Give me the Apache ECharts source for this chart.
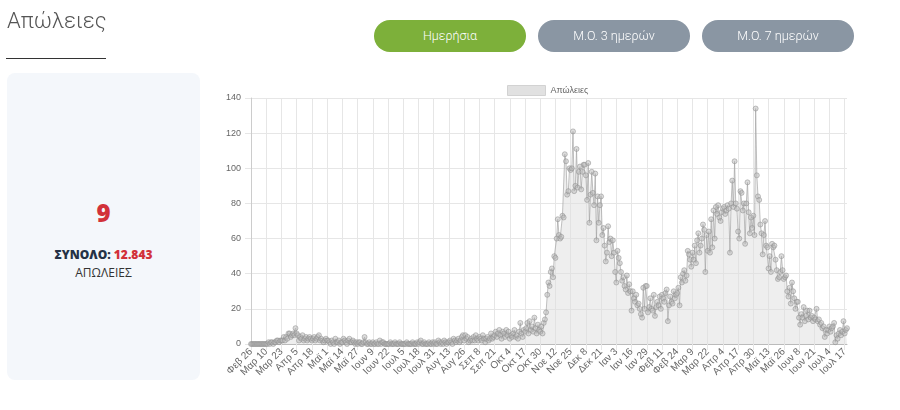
<!DOCTYPE html>
<html>
<head>
<meta charset="utf-8">
<script src="https://cdn.jsdelivr.net/npm/echarts@6/dist/echarts.min.js"></script>
<style>
  body { margin: 0; background: #fff; }
  #page { position: relative; width: 900px; height: 410px; overflow: hidden; font-family: Roboto, 'Liberation Sans', sans-serif; }
  #chart { position: absolute; left: 0; top: 0; width: 900px; height: 410px; }
  .title { position: absolute; left: 7px; top: 8px; font-size: 22px; font-weight: 300; color: #555; }
  .rule { position: absolute; left: 6px; top: 58px; width: 100px; height: 1px; background: #333; }
  .panel { position: absolute; left: 7px; top: 73px; width: 193px; height: 307px; background: #f4f7fb; border-radius: 8px; }
  .big { position: absolute; left: 7px; width: 193px; top: 196px; text-align: center; font-family: 'Open Sans', sans-serif; font-weight: 800; font-size: 24px; color: #d2313a; }
  .total { position: absolute; left: 7px; width: 193px; top: 246px; text-align: center; font-family: 'Open Sans', sans-serif; font-weight: 800; font-size: 12px; color: #253246; }
  .total span { color: #d2313a; }
  .sub { position: absolute; left: 7px; width: 193px; top: 264px; text-align: center; font-family: 'Open Sans', sans-serif; font-size: 12px; color: #333; }
  .btn { position: absolute; top: 20px; height: 32px; width: 152px; border-radius: 16px; color: #fff; text-align: center; line-height: 32px; font-size: 12.5px; font-weight: 300; background: #8a96a3; }
  .btn.on { background: #7db03a; }
</style>
</head>
<body>
<div id="page">
  <div id="chart"></div>
  <div class="title">Απώλειες</div>
  <div class="rule"></div>
  <div class="panel"></div>
  <div class="big">9</div>
  <div class="total">ΣΥΝΟΛΟ: <span>12.843</span></div>
  <div class="sub">ΑΠΩΛΕΙΕΣ</div>
  <div class="btn on" style="left:374px">Ημερήσια</div>
  <div class="btn" style="left:538px">Μ.Ο. 3 ημερών</div>
  <div class="btn" style="left:702px">Μ.Ο. 7 ημερών</div>
</div>
<script>
// daily deaths, one value per day from 26 Feb 2020
const deaths = [
  0, 0, 0, 0, 0, 0, 0, 0, 0, 0, 0, 0, 0,
  0, 0, 1, 0, 1, 1, 0, 1, 1, 2, 2, 1, 2,
  2, 2, 4, 2, 4, 3, 6, 6, 4, 5, 6, 5, 9,
  6, 5, 2, 4, 3, 5, 2, 3, 4, 2, 3, 4, 3,
  2, 3, 4, 2, 3, 4, 5, 2, 3, 2, 1, 2, 3,
  2, 2, 1, 0, 2, 1, 0, 3, 1, 1, 2, 0, 1,
  1, 3, 2, 1, 0, 2, 3, 1, 1, 2, 1, 0, 1,
  0, 1, 1, 0, 0, 1, 4, 1, 0, 0, 1, 0, 0,
  1, 0, 0, 1, 0, 0, 2, 0, 1, 1, 0, 0, 0,
  0, 0, 1, 0, 0, 0, 1, 0, 0, 0, 1, 0, 0,
  0, 0, 0, 1, 0, 0, 0, 0, 1, 0, 0, 0, 1,
  0, 1, 2, 0, 0, 1, 0, 0, 0, 1, 0, 0, 1,
  0, 1, 0, 0, 2, 1, 0, 1, 0, 2, 1, 0, 1,
  1, 2, 1, 0, 3, 2, 1, 2, 3, 1, 2, 4, 5,
  2, 5, 3, 4, 1, 2, 3, 2, 4, 2, 5, 3, 2,
  4, 3, 2, 5, 3, 1, 3, 4, 2, 3, 6, 3, 4,
  5, 7, 4, 6, 8, 5, 3, 7, 6, 4, 8, 5, 7,
  3, 5, 4, 6, 8, 4, 5, 3, 7, 12, 6, 4, 8,
  7, 9, 12, 6, 13, 8, 10, 7, 15, 9, 6, 11, 8,
  7, 10, 6, 12, 14, 18, 28, 35, 33, 41, 43, 38, 50,
  49, 60, 71, 62, 60, 61, 73, 72, 108, 104, 85, 87, 100,
  99, 100, 121, 87, 90, 111, 89, 98, 101, 88, 98, 102, 102,
  96, 82, 103, 69, 85, 98, 86, 79, 97, 59, 84, 69, 79,
  84, 62, 66, 56, 47, 52, 67, 58, 60, 50, 59, 52, 41,
  35, 53, 49, 46, 41, 36, 38, 33, 31, 39, 29, 34, 30,
  19, 30, 26, 24, 28, 22, 23, 20, 17, 15, 32, 20, 33,
  33, 18, 21, 26, 20, 19, 28, 16, 21, 24, 22, 27, 20,
  28, 26, 24, 29, 31, 13, 22, 27, 24, 23, 30, 26, 28,
  29, 32, 22, 38, 35, 40, 42, 36, 39, 53, 51, 48, 44,
  52, 48, 56, 46, 59, 63, 52, 56, 60, 68, 65, 41, 62,
  53, 64, 52, 71, 55, 76, 60, 78, 74, 79, 72, 70, 75,
  77, 78, 74, 76, 79, 77, 52, 80, 93, 78, 104, 80, 77,
  64, 60, 87, 86, 76, 80, 57, 80, 92, 75, 63, 72, 66,
  73, 62, 134, 96, 84, 82, 68, 63, 51, 62, 70, 56, 55,
  43, 50, 41, 57, 55, 56, 48, 42, 37, 38, 41, 50, 42,
  37, 38, 39, 30, 27, 32, 23, 35, 30, 26, 20, 24, 24,
  15, 11, 17, 15, 21, 13, 16, 19, 14, 19, 15, 16, 13,
  15, 14, 20, 13, 14, 11, 12, 9, 10, 4, 8, 6, 8,
  10, 7, 9, 10, 12, 1, 5, 3, 6, 8, 5, 7, 13,
  6, 8, 9
]

const monthNames = ['Ιαν', 'Φεβ', 'Μαρ', 'Απρ', 'Μαϊ', 'Ιουν', 'Ιουλ', 'Αυγ', 'Σεπ', 'Οκτ', 'Νοε', 'Δεκ']
const startDay = Date.UTC(2020, 1, 26)

const days = deaths.map((v, i) => {
  const d = new Date(startDay + i * 86400000)
  return `${monthNames[d.getUTCMonth()]} ${d.getUTCDate()}`
})

const chart = echarts.init(document.getElementById('chart'))

const gridColor = '#e6e6e6'
const labelColor = '#666'

chart.setOption({
  animation: false,
  textStyle: {fontFamily: 'Liberation Sans, Arial, sans-serif'},
  legend: {
    left: 502,
    top: 80,
    itemWidth: 38,
    itemHeight: 10,
    itemGap: 6,
    icon: 'rect',
    itemStyle: {color: 'rgba(222,222,222,0.9)', borderColor: '#d2d2d2', borderWidth: 1},
    textStyle: {fontSize: 9, color: labelColor},
    data: ['Απώλειες']
  },
  grid: {left: 251, right: 53, top: 98, bottom: 66},
  xAxis: {
    type: 'category',
    boundaryGap: false,
    data: days,
    axisLine: {lineStyle: {color: '#bbb'}},
    axisTick: {show: true, interval: 12, length: 6, lineStyle: {color: gridColor}},
    axisLabel: {interval: 12, rotate: 45, fontSize: 10, color: labelColor, margin: 6},
    splitLine: {show: true, interval: 12, lineStyle: {color: gridColor}}
  },
  yAxis: {
    type: 'value',
    min: 0,
    max: 140,
    interval: 20,
    axisLine: {show: true, lineStyle: {color: '#ccc'}},
    axisTick: {show: true, length: 6, lineStyle: {color: gridColor}},
    axisLabel: {fontSize: 9, color: labelColor, margin: 10},
    splitLine: {lineStyle: {color: gridColor}}
  },
  series: [{
    name: 'Απώλειες',
    type: 'line',
    data: deaths,
    showAllSymbol: true,
    symbol: 'circle',
    symbolSize: 5,
    itemStyle: {color: 'rgba(185,185,185,0.5)', borderColor: 'rgba(140,140,140,0.5)', borderWidth: 1},
    lineStyle: {color: 'rgba(160,160,160,0.65)', width: 1},
    areaStyle: {color: 'rgba(222,222,222,0.75)'}
  }]
})
</script>
</body>
</html>
